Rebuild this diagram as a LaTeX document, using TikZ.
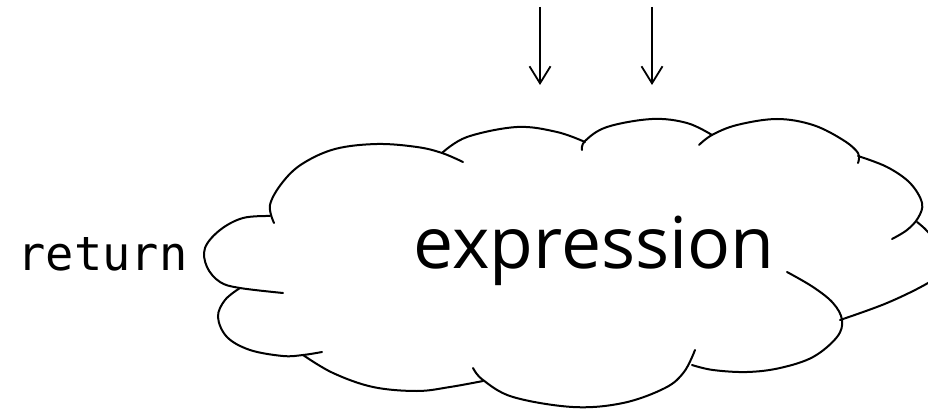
\documentclass[tikz,border=0pt]{standalone}
\usepackage{fontspec}
\setmainfont{Open Sans}
\newfontfamily\codefont{DejaVu Sans Mono}
\usetikzlibrary{arrows.meta}
\begin{document}
\begin{tikzpicture}[x=1pt,y=-1pt,
  cloudline/.style={line width=2pt, line cap=round, smooth, tension=0.6},
  downarrow/.style={line width=1.8pt, -{Straight Barb[length=17pt,width=21pt,line width=1.8pt]}},
  bigtext/.style={inner sep=0pt, font=\fontsize{71.5}{86}\selectfont},
  codetext/.style={inner sep=0pt, font=\codefont\fontsize{47}{56}\selectfont}]
\path[use as bounding box] (0,0) rectangle (928,409);
\clip (0,0) rectangle (928,409);
% cloud lobes
\draw[cloudline] plot coordinates {(274,223) (270,205) (282,183) (302,164) (335,149) (377,144) (417,147) (442,153) (463,162)};
\draw[cloudline] plot coordinates {(442,153) (467,137) (517,127) (557,132) (585,142)};
\draw[cloudline] plot coordinates {(582,150) (585,141) (607,127) (652,119) (687,123) (712,135)};
\draw[cloudline] plot coordinates {(699,145) (712,135) (737,125) (777,119) (813,125) (843,140) (858,153) (858,163)};
\draw[cloudline] plot coordinates {(858,156) (887,167) (910,183) (922,203) (918,218) (907,230) (892,239)};
\draw[cloudline] plot coordinates {(917,222) (928,232) (943,252) (943,270) (928,283) (887,303) (840,320)};
\draw[cloudline] plot coordinates {(787,272) (813,287) (833,303) (842,320) (837,337) (813,357) (780,368) (747,372) (713,370) (692,365)};
\draw[cloudline] plot coordinates {(473,368) (483,380) (513,397) (573,407) (623,403) (665,388) (684,372) (695,350)};
\draw[cloudline] plot coordinates {(303,355) (333,373) (373,387) (417,391) (450,387) (483,381)};
\draw[cloudline] plot coordinates {(240,288) (225,300) (218,317) (227,337) (250,350) (283,356) (303,355) (322,352)};
\draw[cloudline] plot coordinates {(270,216) (243,218) (220,230) (205,248) (207,267) (220,282) (240,288) (283,293)};
% texts
\node[bigtext, anchor=base] (expr) at (594,268) {expression};
\node[codetext, anchor=base] (ret) at (102.5,270) {return};
% arrows
\coordinate (a1s) at (540,7);
\coordinate (a1e) at (540,85);
\coordinate (a2s) at (652,7);
\coordinate (a2e) at (652,85);
\draw[downarrow] (a1s) -- (a1e);
\draw[downarrow] (a2s) -- (a2e);
\end{tikzpicture}
\end{document}
